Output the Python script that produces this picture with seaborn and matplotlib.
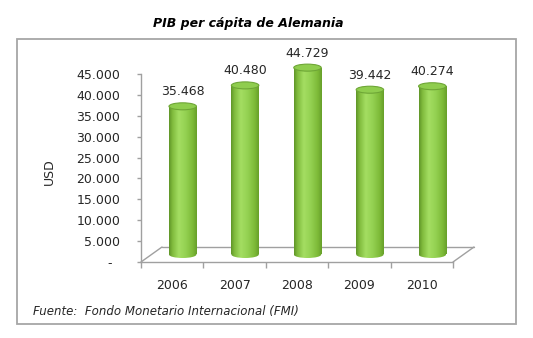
import numpy as np
import pandas as pd
import matplotlib
matplotlib.use("Agg")
import matplotlib.pyplot as plt
import matplotlib.transforms as mtransforms
from matplotlib.patches import Rectangle, Ellipse
from matplotlib.lines import Line2D
from matplotlib.colors import LinearSegmentedColormap
import seaborn as sns

# ---- data ----
years = ["2006", "2007", "2008", "2009", "2010"]
values = [35468, 40480, 44729, 39442, 40274]
value_labels = ["35.468", "40.480", "44.729", "39.442", "40.274"]
ytick_values = [0, 5000, 10000, 15000, 20000, 25000, 30000, 35000, 40000, 45000]
ytick_labels = ["-  ", "5.000", "10.000", "15.000", "20.000", "25.000",
                "30.000", "35.000", "40.000", "45.000"]
title = "PIB per cápita de Alemania"
source = "Fuente:  Fondo Monetario Internacional (FMI)"
ylabel = "USD"

sns.set_theme(style="white")
plt.rcParams['font.family'] = ['DejaVu Sans']

W, H = 533, 338
fig = plt.figure(figsize=(W / 100, H / 100), dpi=100)
fig.patch.set_facecolor("white")

# outer frame
fig.add_artist(Rectangle((17 / W, (H - 324) / H), 499 / W, 285 / H,
                         transform=fig.transFigure, fill=False,
                         edgecolor="#a6a6a6", linewidth=1.3))

ax = fig.add_axes([141 / W, (H - 262) / H, 312 / W, 188 / H])
df = pd.DataFrame({"year": years, "value": values})
sns.barplot(data=df, x="year", y="value", ax=ax, color="#92D050",
            width=0.44, saturation=1, errorbar=None)

ax.set_xlim(-0.5, len(years) - 0.5)
ax.set_ylim(0, 45000)

gray = "#a0a0a0"
for s in ["top", "right"]:
    ax.spines[s].set_visible(False)
for s in ["left", "bottom"]:
    ax.spines[s].set_color(gray)
    ax.spines[s].set_linewidth(1.0)
ax.set_facecolor("white")

# depth offsets (pixels): floor back edge and cylinder mid-depth
back_off = mtransforms.ScaledTranslation(21 / 100, 15 / 100, fig.dpi_scale_trans)
mid_off = mtransforms.ScaledTranslation(10.5 / 100, 7.5 / 100, fig.dpi_scale_trans)
trans_back = ax.transData + back_off
trans_mid = ax.transData + mid_off

# floor parallelogram
n = len(years)
floor_kw = dict(color=gray, linewidth=1.0, clip_on=False)
ax.add_line(Line2D([-0.5, -0.5], [0, 0], **floor_kw))
ax.plot([-0.5, -0.5 + 0.0], [0, 0], **floor_kw)
# diagonal lines: from front point to back point
for xf in [-0.5, n - 0.5]:
    p_front = ax.transData.transform((xf, 0))
    p_back = trans_back.transform((xf, 0))
    ax.add_line(Line2D([p_front[0], p_back[0]], [p_front[1], p_back[1]],
                       transform=None, **floor_kw))
ax.add_line(Line2D([-0.5, n - 0.5], [0, 0], transform=trans_back, **floor_kw))

# cylinders
cyl_cmap = LinearSegmentedColormap.from_list(
    "cyl", [(0.0, "#5f9428"), (0.12, "#7fba3c"), (0.35, "#a4de62"),
            (0.6, "#94d152"), (0.85, "#7dba38"), (1.0, "#679f2a")])
grad = np.linspace(0, 1, 256)[None, :]
ell_h = 7 * 45000 / 188.0

for p, lab in zip(list(ax.patches), value_labels):
    x0, w, h = p.get_x(), p.get_width(), p.get_height()
    p.set_visible(False)
    xc = x0 + w / 2
    im1 = ax.imshow(grad, extent=[x0, x0 + w, -ell_h, h], aspect="auto",
                    cmap=cyl_cmap, transform=trans_mid, zorder=3,
                    interpolation="bilinear")
    im1.set_clip_path(Rectangle((x0, 0), w, h, transform=trans_mid))
    im2 = ax.imshow(grad, extent=[x0, x0 + w, -ell_h, h], aspect="auto",
                    cmap=cyl_cmap, transform=trans_mid, zorder=3,
                    interpolation="bilinear")
    im2.set_clip_path(Ellipse((xc, 0), w, ell_h, transform=trans_mid))
    cap = Ellipse((xc, h), w, ell_h, transform=trans_mid, facecolor="#8fcd4e",
                  edgecolor="#6ea636", linewidth=0.8, zorder=4, clip_on=False)
    ax.add_patch(cap)
    ax.annotate(lab, xy=(xc, h), xycoords=trans_mid, xytext=(0, 14.5),
                textcoords="offset pixels", ha="center", va="center",
                fontsize=9, color="#262626", annotation_clip=False)

ax.set_xlim(-0.5, len(years) - 0.5)
ax.set_ylim(0, 45000)

# y ticks
ax.set_yticks(ytick_values)
ax.set_yticklabels(ytick_labels)
ax.tick_params(axis="y", which="major", length=3, width=1, color=gray,
               pad=12, labelsize=9, labelcolor="#262626", left=True)
# x ticks
ax.set_xticks(range(n))
ax.set_xticklabels(years)
ax.set_xticks(np.arange(-0.5, n, 1.0), minor=True)
ax.tick_params(axis="x", which="major", length=0, pad=12, labelsize=9,
               labelcolor="#262626")
ax.tick_params(axis="x", which="minor", length=4.5, width=1, color=gray,
               bottom=True)
ax.set_xlabel("")
ax.set_ylabel("")

fig.text(49 / W, 1 - 172 / H, ylabel, rotation=90, ha="center", va="center",
         fontsize=9, color="#262626")
fig.text(248 / W, 1 - 23 / H, title, ha="center", va="center", fontsize=9,
         fontweight="bold", fontstyle="italic", color="black")
fig.text(33 / W, 1 - 311 / H, source, ha="left", va="center", fontsize=8.5,
         fontstyle="italic", color="#262626")

fig.savefig("out.png", dpi=100, facecolor="white")
